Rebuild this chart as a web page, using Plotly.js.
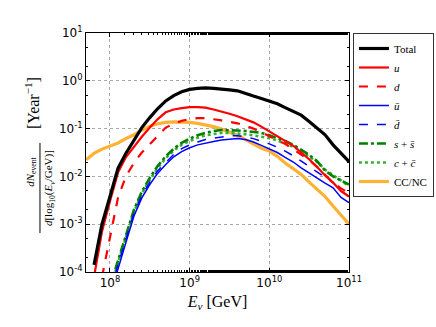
<!DOCTYPE html>
<html>
<head>
<meta charset="utf-8">
<script src="https://cdn.plot.ly/plotly-3.0.1.min.js"></script>
<style>html,body{margin:0;padding:0;background:#fff;}#chart{width:436px;height:327px;}</style>
</head>
<body>
<div id="chart"></div>
<script>
// Neutrino energy grid [GeV]
const energy = [5.01e7, 6.31e7, 7.94e7, 1e8, 1.26e8, 1.58e8, 2.00e8, 2.51e8, 3.16e8, 3.98e8,
  5.01e8, 6.31e8, 7.94e8, 1e9, 1.26e9, 1.58e9, 2.00e9, 2.51e9, 3.16e9, 3.98e9,
  5.01e9, 6.31e9, 7.94e9, 1e10, 1.26e10, 1.58e10, 2.00e10, 2.51e10, 3.16e10, 3.98e10,
  5.01e10, 6.31e10, 7.94e10, 1e11];

const total = [null, 1.41e-4, 1.0e-3, 3.80e-3, 1.48e-2, 3.02e-2, 5.62e-2, 0.105, 0.170, 0.263,
  0.380, 0.490, 0.589, 0.661, 0.692, 0.708, 0.692, 0.676, 0.646, 0.617,
  0.537, 0.479, 0.427, 0.380, 0.331, 0.275, 0.229, 0.191, 0.141, 0.100,
  0.0741, 0.0457, 0.0302, 0.0204];

const uQ = [null, 7.94e-5, 7.08e-4, 3.02e-3, 1.20e-2, 2.51e-2, 4.17e-2, 6.76e-2, 0.105, 0.158,
  0.219, 0.251, 0.269, 0.282, 0.282, 0.275, 0.251, 0.229, 0.204, 0.182,
  0.158, 0.135, 0.110, 0.0871, 0.0708, 0.0562, 0.0437, 0.0316, 0.0229, 0.0158,
  0.0105, 7.41e-3, 4.90e-3, 3.80e-3];

const dQ = [null, null, 7.94e-5, 5.62e-4, 3.55e-3, 1.0e-2, 1.91e-2, 3.16e-2, 4.79e-2, 7.08e-2,
  0.105, 0.126, 0.145, 0.158, 0.166, 0.166, 0.158, 0.148, 0.138, 0.129,
  0.115, 0.100, 0.0832, 0.0692, 0.0562, 0.0479, 0.0372, 0.0288, 0.0219, 0.0158,
  0.0107, 7.41e-3, 5.62e-3, 4.47e-3];

const ubarQ = [null, null, null, 3.16e-5, 1.20e-4, 4.07e-4, 1.48e-3, 3.55e-3, 6.76e-3, 1.17e-2,
  1.78e-2, 2.57e-2, 3.31e-2, 3.98e-2, 4.57e-2, 5.01e-2, 5.37e-2, 5.75e-2, 6.03e-2, 6.17e-2,
  5.89e-2, 5.25e-2, 4.47e-2, 3.80e-2, 3.16e-2, 2.51e-2, 2.00e-2, 1.51e-2, 1.17e-2, 9.33e-3,
  7.24e-3, 5.75e-3, 3.63e-3, 2.82e-3];

const dbarQ = [null, null, null, 3.98e-5, 1.41e-4, 4.79e-4, 1.70e-3, 3.98e-3, 7.59e-3, 1.32e-2,
  2.00e-2, 2.88e-2, 3.80e-2, 4.57e-2, 5.25e-2, 5.89e-2, 6.31e-2, 6.76e-2, 7.08e-2, 7.08e-2,
  6.76e-2, 6.17e-2, 5.50e-2, 4.79e-2, 4.07e-2, 3.39e-2, 2.69e-2, 2.09e-2, 1.62e-2, 1.26e-2,
  9.55e-3, 7.41e-3, 5.01e-3, 3.80e-3];

const ssbar = [null, null, null, 5.01e-5, 1.78e-4, 6.03e-4, 2.00e-3, 4.79e-3, 9.33e-3, 1.66e-2,
  2.63e-2, 3.80e-2, 5.01e-2, 6.17e-2, 7.24e-2, 8.13e-2, 8.91e-2, 9.33e-2, 9.33e-2, 9.12e-2,
  8.91e-2, 8.51e-2, 8.13e-2, 7.24e-2, 6.31e-2, 5.50e-2, 4.57e-2, 3.63e-2, 2.82e-2, 2.09e-2,
  1.32e-2, 1.00e-2, 8.32e-3, 6.76e-3];

const ccbar = [null, null, null, 4.47e-5, 1.58e-4, 5.50e-4, 1.82e-3, 4.37e-3, 8.51e-3, 1.51e-2,
  2.40e-2, 3.47e-2, 4.57e-2, 5.50e-2, 6.46e-2, 7.24e-2, 7.76e-2, 8.13e-2, 8.13e-2, 7.94e-2,
  7.59e-2, 7.24e-2, 6.76e-2, 6.31e-2, 5.62e-2, 4.90e-2, 4.17e-2, 3.39e-2, 2.63e-2, 2.00e-2,
  1.38e-2, 1.05e-2, 7.94e-3, 6.31e-3];

const ccnc = [2.24e-2, 3.02e-2, 3.72e-2, 4.27e-2, 5.01e-2, 6.17e-2, 7.41e-2, 9.33e-2, 0.112, 0.126,
  0.135, 0.138, 0.138, 0.135, 0.129, 0.120, 0.110, 9.77e-2, 8.51e-2, 7.24e-2,
  5.89e-2, 4.79e-2, 3.89e-2, 3.39e-2, 2.63e-2, 1.91e-2, 1.45e-2, 1.10e-2, 7.59e-3, 5.37e-3,
  3.80e-3, 2.40e-3, 1.58e-3, 1.00e-3];

const yTickVals = [1e-4, 1e-3, 1e-2, 1e-1, 1, 10];
const yTickText = ['10<sup>-4</sup>', '10<sup>-3</sup>', '10<sup>-2</sup>', '10<sup>-1</sup>', '10<sup>0</sup>', '10<sup>1</sup>'];
const xTickVals = [1e8, 1e9, 1e10, 1e11];
const xTickText = ['10<sup>8</sup>', '10<sup>9</sup>', '10<sup>10</sup>', '10<sup>11</sup>'];

const names = ['Total', '<i>u</i>', '<i>d</i>', '<i>ū</i>', '<i>d̄</i>', '<i>s</i> + <i>s̄</i>', '<i>c</i> + <i>c̄</i>', 'CC/NC'];
const series = [total, uQ, dQ, ubarQ, dbarQ, ssbar, ccbar, ccnc];
const styles = [
  {color: '#000000', width: 3.2, dash: 'solid'},
  {color: '#ff0000', width: 2.2, dash: 'solid'},
  {color: '#ff0000', width: 2.2, dash: 'dash'},
  {color: '#0000ff', width: 1.5, dash: 'solid'},
  {color: '#0000ff', width: 1.5, dash: 'dash'},
  {color: '#007f00', width: 2.6, dash: 'dashdot'},
  {color: '#33b233', width: 2.6, dash: 'dot'},
  {color: '#ffb133', width: 3.2, dash: 'solid'}
];
const traces = series.map((s, i) => ({
  x: energy, y: s, name: names[i], type: 'scatter', mode: 'lines',
  line: styles[i], connectgaps: false, legendrank: i + 1
}));
// draw CC/NC first so quark curves lie on top; legend order kept by legendrank
const ordered = [traces[7], traces[6], traces[5], traces[4], traces[3], traces[2], traces[1], traces[0]];

const serif = 'Liberation Serif, DejaVu Serif, serif';
const axisCommon = {
  type: 'log', showline: true, linecolor: '#000', linewidth: 1, mirror: 'allticks',
  ticks: 'inside', ticklen: 4, tickwidth: 1, tickcolor: '#000',
  showgrid: true, gridcolor: '#a8a8a8', griddash: 'dot', gridwidth: 1,
  tickmode: 'array', zeroline: false,
  tickfont: {family: 'DejaVu Sans, sans-serif', size: 12, color: '#000'},
  minor: {ticks: 'inside', ticklen: 2, tickcolor: '#000', showgrid: false}
};

const layout = {
  width: 436, height: 327,
  margin: {l: 86, r: 87, t: 33, b: 55, autoexpand: false},
  paper_bgcolor: '#fff', plot_bgcolor: '#fff',
  showlegend: true,
  xaxis: Object.assign({}, axisCommon, {
    range: [Math.log10(5e7), 11], tickvals: xTickVals, ticktext: xTickText,
    title: {text: '<i>E</i><sub><i>ν</i></sub> [GeV]', font: {family: serif, size: 16, color: '#000'}, standoff: 6}
  }),
  yaxis: Object.assign({}, axisCommon, {range: [-4, 1], tickvals: yTickVals, ticktext: yTickText}),
  legend: {
    x: 1.015, y: 1, xanchor: 'left', yanchor: 'top',
    bordercolor: '#333', borderwidth: 1, bgcolor: '#fff',
    font: {family: serif, size: 11, color: '#000'},
    tracegroupgap: 0, itemwidth: 30, traceorder: 'normal'
  },
  annotations: [
    {xref: 'paper', yref: 'paper', x: -0.205, y: 0.707, text: '[Year<sup>−1</sup>]', textangle: -90,
     showarrow: false, xanchor: 'center', yanchor: 'middle', font: {family: serif, size: 16, color: '#000'}},
    {xref: 'paper', yref: 'paper', x: -0.21, y: 0.418, text: '<i>dN</i><sub>event</sub>', textangle: -90,
     showarrow: false, xanchor: 'center', yanchor: 'middle', font: {family: serif, size: 11, color: '#000'}},
    {xref: 'paper', yref: 'paper', x: -0.138, y: 0.350, text: '<i>d</i>[log<sub>10</sub>(<i>E</i><sub><i>ν</i></sub>/GeV)]', textangle: -90,
     showarrow: false, xanchor: 'center', yanchor: 'middle', font: {family: serif, size: 11, color: '#000'}}
  ],
  shapes: [
    {type: 'line', xref: 'paper', yref: 'paper', x0: -0.175, x1: -0.175, y0: 0.163, y1: 0.540,
     line: {color: '#000', width: 1}}
  ]
};

Plotly.newPlot('chart', ordered, layout, {displayModeBar: false, staticPlot: true});
</script>
</body>
</html>
